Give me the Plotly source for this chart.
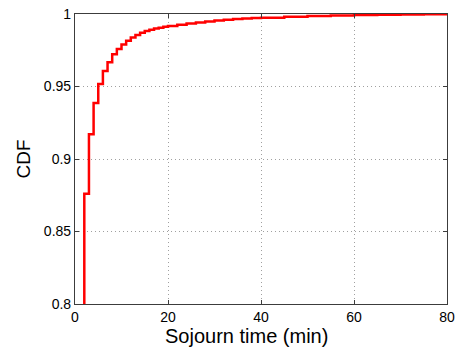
import plotly.graph_objects as go

# Sojourn time (minutes) and estimated CDF values
minutes = [1, 2, 3, 4, 5, 6, 7, 8, 9, 10,
           11, 12, 13, 14, 15, 16, 17, 18, 19, 20,
           22, 24, 26, 28, 30, 32, 34, 36, 38, 40,
           45, 50, 55, 60, 65, 70, 75, 80]
cdf = [0.600, 0.876, 0.917, 0.9386, 0.9517, 0.9607, 0.9667, 0.9722, 0.9759, 0.9790,
       0.9815, 0.9838, 0.9855, 0.9870, 0.9882, 0.9892, 0.9900, 0.9906, 0.9912, 0.9917,
       0.9926, 0.9934, 0.9941, 0.9948, 0.9955, 0.9960, 0.9965, 0.9969, 0.9972, 0.9975,
       0.9981, 0.9986, 0.9990, 0.9993, 0.9995, 0.9997, 0.9999, 1.0]

x_ticks = [0, 20, 40, 60, 80]
y_ticks = [0.8, 0.85, 0.9, 0.95, 1.0]
y_tick_labels = ["0.8", "0.85", "0.9", "0.95", "1"]

fig = go.Figure()
fig.add_trace(go.Scatter(x=minutes, y=cdf, mode="lines", line=dict(color="#ff0000", width=2.5, shape="hv"),
                         showlegend=False))

axis_common = dict(showline=True, linecolor="#3c3c3c", linewidth=1.2, mirror="ticks",
                   ticks="inside", ticklen=4, tickcolor="#3c3c3c",
                   showgrid=True, gridcolor="#a0a0a0", griddash="1px,3px", gridwidth=1,
                   zeroline=False, automargin=False,
                   tickfont=dict(family="Liberation Sans, Arial", size=14, color="#000"))

fig.update_xaxes(range=[0, 80], tickvals=x_ticks, ticktext=[str(v) for v in x_ticks],
                 **axis_common)
fig.update_yaxes(range=[0.8, 1.0], tickvals=y_ticks, ticktext=y_tick_labels,
                 title=dict(text="CDF", font=dict(family="Liberation Sans, Arial", size=19, color="#000"), standoff=8),
                 **axis_common)

fig.add_annotation(text="Sojourn time (min)", xref="paper", yref="paper", x=0.461, y=0,
                   xanchor="center", yanchor="middle", yshift=-31.5, showarrow=False,
                   font=dict(family="Liberation Sans, Arial", size=20, color="#000"))

fig.update_layout(width=457, height=349, margin=dict(l=75, r=10, t=14, b=45),
                  plot_bgcolor="white", paper_bgcolor="white")

fig.write_html("out.html")
